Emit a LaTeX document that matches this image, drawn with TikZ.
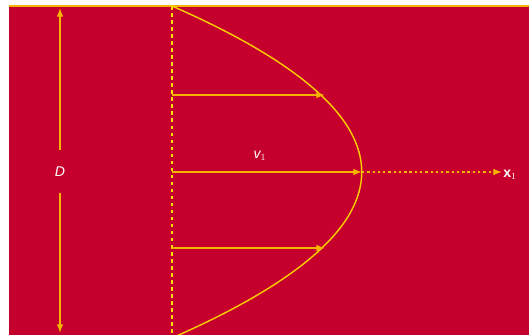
\documentclass[tikz,border=0pt]{standalone}
\usepackage{fontspec}
\setsansfont{Liberation Sans}
\usepackage{tikz}
\usetikzlibrary{positioning, arrows.meta}
\definecolor{pipered}{HTML}{C6002C}
\definecolor{flow}{HTML}{F4B400}
\definecolor{axisyel}{HTML}{FFE000}
\tikzset{
  wall/.style     = {draw=flow, line width=1.4pt},
  vel/.style      = {-{Latex[length=2.6mm,width=2mm]}, draw=flow, fill=flow, line width=1.1pt},
  centre/.style   = {draw=axisyel, line width=0.9pt, dash pattern=on 3pt off 3pt},
  axisline/.style = {-{Latex[length=2.6mm,width=2mm]}, draw=flow, fill=flow, line width=1.1pt,
                     dash pattern=on 2pt off 2.5pt},
  profile/.style  = {draw=axisyel!60!flow, line width=1.2pt},
  lbl/.style      = {text=white, font=\sffamily\itshape\large, inner sep=1pt},
}

\begin{document}
\begin{tikzpicture}[x=0.03cm, y=-0.03cm]

  \useasboundingbox (0,0) rectangle (529,335);
  \fill[pipered] (9,6) rectangle (529,335);

  % pipe wall and centre line
  \coordinate (wl) at (9,6);
  \coordinate (wr) at (529,6);
  \draw[wall] (wl) -- (wr);
  \coordinate (ct) at (172,6);
  \coordinate (cb) at (172,335);
  \draw[centre] (ct) -- (cb);

  % diameter
  \node[lbl] (D) at (60,172) {D};
  \coordinate (dtop) at (60,8);
  \coordinate (dbot) at (60,333);
  \draw[vel] (D.north |- 0,150) -- (dtop);
  \draw[vel] (D.south |- 0,193) -- (dbot);

  % velocity profile
  \coordinate (vx) at (362,172);
  \draw[profile] (ct) .. controls (425,117) and (425,227) .. (172,338);

  \coordinate (a1) at (172,95);
  \coordinate (b1) at (325,95);
  \coordinate (a2) at (172,172);
  \coordinate (a3) at (172,248);
  \coordinate (b3) at (325,248);
  \draw[vel] (a1) -- (b1);
  \draw[vel] (a2) -- (vx);
  \draw[vel] (a3) -- (b3);
  \node[lbl] (v) at (260,156) {v$_1$};

  % flow axis
  \node[lbl, font=\sffamily\bfseries\large, anchor=west] (x) at (502,175) {x$_1$};
  \draw[axisline] (vx) -- (vx -| x.west);

\end{tikzpicture}
\end{document}
